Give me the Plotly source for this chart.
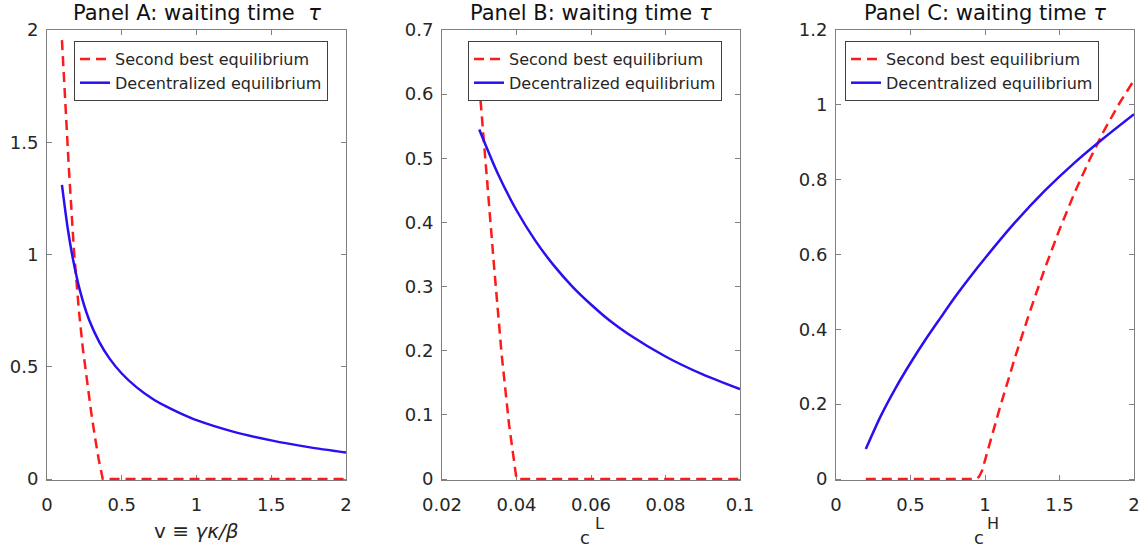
import plotly.graph_objects as go

# ---- Panel A: waiting time vs v = gamma*kappa/beta ----
a_sb_x = [0.10, 0.12, 0.147, 0.18, 0.213, 0.24, 0.267, 0.295, 0.32, 0.345, 0.373, 0.5, 1.0, 1.5, 2.0]
a_sb_y = [1.955, 1.70, 1.376, 1.02, 0.753, 0.58, 0.43, 0.30, 0.19, 0.09, 0.0, 0.0, 0.0, 0.0, 0.0]
a_de_x = [0.10, 0.14, 0.175, 0.22, 0.282, 0.35, 0.42, 0.50, 0.60, 0.70, 0.80, 0.90, 1.00, 1.25, 1.50, 1.75, 2.00]
a_de_y = [1.31, 1.11, 0.975, 0.84, 0.708, 0.61, 0.535, 0.47, 0.408, 0.36, 0.322, 0.29, 0.262, 0.21, 0.172, 0.142, 0.118]

# ---- Panel B: waiting time vs c^L ----
b_sb_x = [0.030, 0.032, 0.034, 0.036, 0.038, 0.040, 0.06, 0.08, 0.10]
b_sb_y = [0.615, 0.47, 0.33, 0.195, 0.085, 0.0, 0.0, 0.0, 0.0]
b_de_x = [0.030, 0.035, 0.040, 0.045, 0.050, 0.055, 0.060, 0.065, 0.070, 0.080, 0.090, 0.100]
b_de_y = [0.545, 0.476, 0.419, 0.372, 0.333, 0.30, 0.272, 0.247, 0.226, 0.191, 0.163, 0.14]

# ---- Panel C: waiting time vs c^H ----
c_sb_x = [0.2, 0.5, 0.94, 0.96, 0.98, 1.00, 1.10, 1.20, 1.30, 1.40, 1.50, 1.60, 1.70, 1.80, 1.90, 2.00]
c_sb_y = [0.0, 0.0, 0.0, 0.006, 0.022, 0.05, 0.191, 0.323, 0.446, 0.561, 0.667, 0.764, 0.852, 0.932, 1.003, 1.066]
c_de_x = [0.2, 0.3, 0.4, 0.5, 0.6, 0.7, 0.8, 0.9, 1.0, 1.2, 1.4, 1.6, 1.8, 2.0]
c_de_y = [0.08, 0.168, 0.243, 0.31, 0.372, 0.43, 0.487, 0.54, 0.59, 0.685, 0.77, 0.845, 0.912, 0.975]

# tick values / labels
a_xticks = [0, 0.5, 1, 1.5, 2]
a_xlabels = ["0", "0.5", "1", "1.5", "2"]
a_yticks = [0, 0.5, 1, 1.5, 2]
a_ylabels = ["0", "0.5", "1", "1.5", "2"]
b_xticks = [0.02, 0.04, 0.06, 0.08, 0.1]
b_xlabels = ["0.02", "0.04", "0.06", "0.08", "0.1"]
b_yticks = [0, 0.1, 0.2, 0.3, 0.4, 0.5, 0.6, 0.7]
b_ylabels = ["0", "0.1", "0.2", "0.3", "0.4", "0.5", "0.6", "0.7"]
c_xticks = [0, 0.5, 1, 1.5, 2]
c_xlabels = ["0", "0.5", "1", "1.5", "2"]
c_yticks = [0, 0.2, 0.4, 0.6, 0.8, 1.0, 1.2]
c_ylabels = ["0", "0.2", "0.4", "0.6", "0.8", "1", "1.2"]

titles = ["Panel A: waiting time\u00a0 <i>τ</i>",
          "Panel B: waiting time <i>τ</i>",
          "Panel C: waiting time <i>τ</i>"]
names = ["Second best equilibrium", "Decentralized equilibrium"]

W, H = 1146, 550
FONT = "DejaVu Sans"
TXT = "#262626"
AX = "#808080"
RED = "#ff1a1a"
BLUE = "#2a10f0"

# pixel boxes of the three plot areas (left, right), shared top/bottom
panels_px = [(47, 346), (442, 740), (836, 1134)]
top_px, bot_px = 30, 479
PAD = 1.25  # extra pixels below zero so the flat dashes are not clipped


def px2x(p):
    return p / W


def px2y(p):
    return 1 - p / H


fig = go.Figure()

data = [
    (a_sb_x, a_sb_y, a_de_x, a_de_y),
    (b_sb_x, b_sb_y, b_de_x, b_de_y),
    (c_sb_x, c_sb_y, c_de_x, c_de_y),
]
for i, (sx, sy, dx, dy) in enumerate(data):
    sfx = "" if i == 0 else str(i + 1)
    leg = "legend" + sfx
    fig.add_trace(go.Scatter(
        x=sx, y=sy, mode="lines", name=names[0],
        line=dict(color=RED, width=2.5, dash="10px,6px"),
        xaxis="x" + sfx, yaxis="y" + sfx, legend=leg))
    fig.add_trace(go.Scatter(
        x=dx, y=dy, mode="lines", name=names[1],
        line=dict(color=BLUE, width=2.5, shape="spline", smoothing=0.8),
        xaxis="x" + sfx, yaxis="y" + sfx, legend=leg))

axis_common = dict(
    showline=True, linecolor=AX, linewidth=1, mirror="ticks",
    ticks="inside", ticklen=5, tickcolor=AX, tickwidth=1,
    showgrid=False, zeroline=False, layer="below traces",
    tickfont=dict(family=FONT, size=18, color=TXT),
    fixedrange=True, automargin=False,
)

ranges = [([0, 2], [0, 2]), ([0.02, 0.1], [0, 0.7]), ([0, 2], [0, 1.2])]
xt = [(a_xticks, a_xlabels), (b_xticks, b_xlabels), (c_xticks, c_xlabels)]
yt = [(a_yticks, a_ylabels), (b_yticks, b_ylabels), (c_yticks, c_ylabels)]

layout = dict(
    width=W, height=H,
    margin=dict(l=0, r=0, t=0, b=0, autoexpand=False),
    paper_bgcolor="white", plot_bgcolor="white",
    showlegend=True,
)

legend_left_px = [74, 468, 845]
for i in range(3):
    sfx = "" if i == 0 else str(i + 1)
    l, r = panels_px[i]
    y0, y1 = ranges[i][1]
    per_px = (y1 - y0) / (bot_px - top_px)
    layout["xaxis" + sfx] = dict(
        axis_common, domain=[px2x(l), px2x(r)], range=ranges[i][0],
        tickvals=xt[i][0], ticktext=xt[i][1], anchor="y" + sfx,
        ticklabelstandoff=8)
    layout["yaxis" + sfx] = dict(
        axis_common, domain=[px2y(bot_px + PAD), px2y(top_px)],
        range=[y0 - PAD * per_px, y1],
        tickvals=yt[i][0], ticktext=yt[i][1], anchor="x" + sfx,
        ticklabelstandoff=4)
    layout["legend" + sfx] = dict(
        x=px2x(legend_left_px[i]), y=px2y(41), xanchor="left", yanchor="top",
        xref="paper", yref="paper",
        bgcolor="white", bordercolor="#404040", borderwidth=1,
        font=dict(family=FONT, size=16, color=TXT),
        tracegroupgap=0, itemwidth=30)

fig.update_layout(**layout)

annotations = []
for i in range(3):
    l, r = panels_px[i]
    annotations.append(dict(
        text=titles[i], x=px2x((l + r) / 2), y=px2y(13),
        xref="paper", yref="paper", xanchor="center", yanchor="middle",
        showarrow=False, font=dict(family=FONT, size=21, color="#111111")))

# axis labels
annotations.append(dict(
    text="v ≡ <i>γκ/β</i>", x=px2x(196), y=px2y(531),
    xref="paper", yref="paper", xanchor="center", yanchor="middle",
    showarrow=False, font=dict(family=FONT, size=20, color=TXT)))
for cx, sup in [(585, "L"), (979, "H")]:
    annotations.append(dict(
        text="c", x=px2x(cx), y=px2y(537), borderpad=0,
        xref="paper", yref="paper", xanchor="center", yanchor="middle",
        showarrow=False, font=dict(family=FONT, size=18, color=TXT)))
    annotations.append(dict(
        text=sup, x=px2x(cx + 14), y=px2y(523), borderpad=0,
        xref="paper", yref="paper", xanchor="center", yanchor="middle",
        showarrow=False, font=dict(family=FONT, size=16, color=TXT)))

fig.update_layout(annotations=annotations)

fig.write_html("out.html")
